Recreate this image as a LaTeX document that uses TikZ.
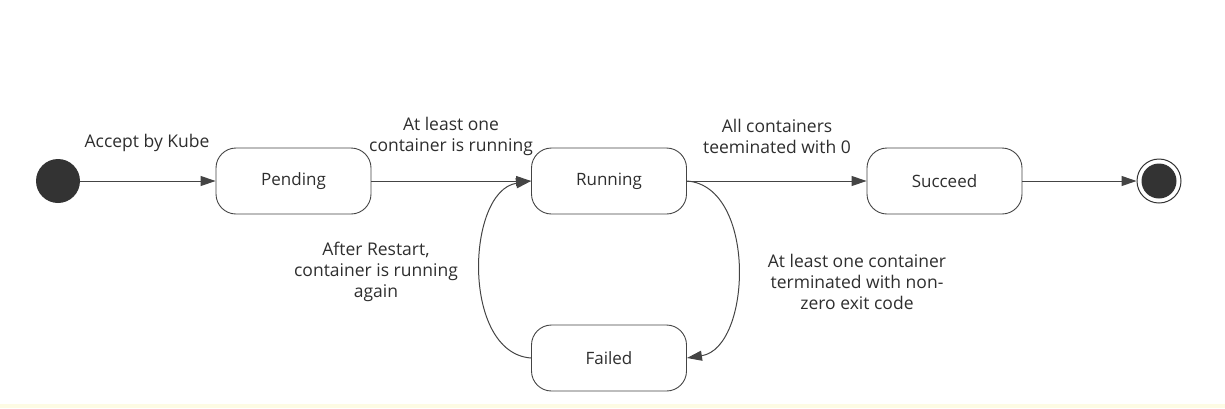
\documentclass[tikz,border=0pt]{standalone}
\usepackage{fontspec}
\setmainfont{Open Sans}
\usetikzlibrary{arrows.meta}
\definecolor{ln}{HTML}{444444}
\definecolor{dk}{HTML}{333333}
\definecolor{txt}{HTML}{2E2E2E}
\definecolor{band}{HTML}{FDFBE4}
\begin{document}
\begin{tikzpicture}[x=1pt,y=-1pt,
  statebox/.style={draw=ln, line width=0.9pt, rounded corners=20pt, minimum width=155pt, minimum height=66pt, inner sep=0pt, font=\fontsize{17}{20}\selectfont, text=txt},
  conn/.style={draw=ln, line width=1pt, -{Triangle[length=15pt,width=10pt]}},
  lbl/.style={font=\fontsize{17.5}{21}\selectfont, text=txt, align=center, inner sep=0pt}]
\useasboundingbox (0,0) rectangle (1225,408);
\fill[band] (0,404) rectangle (1225,408);
\node[circle, fill=dk, minimum size=44pt, inner sep=0pt] (init) at (58,181) {};
\node[statebox] (pend) at (293.5,181) {\raisebox{-1.5pt}{Pending}};
\node[statebox] (run) at (609,181) {\raisebox{-1.5pt}{Running}};
\node[statebox] (succ) at (944.5,181) {\raisebox{-1.5pt}{Succeed}};
\node[statebox] (fail) at (609,358) {\raisebox{-1.5pt}{Failed}};
\node[circle, draw=dk, line width=1pt, minimum size=44pt, inner sep=0pt] (fin) at (1159,181) {};
\node[circle, fill=dk, minimum size=35pt, inner sep=0pt] (fininner) at (1159,181) {};
\draw[conn] (init) -- (pend.west);
\draw[conn] (pend.east) -- (run.west);
\draw[conn] (run.east) -- (succ.west);
\draw[conn] (succ.east) -- (fin.west);
\draw[conn] (run.east) .. controls +(70,5) and +(65,-10) .. (fail.east);
\draw[conn] (fail.west) .. controls +(-70,-5) and +(-65,10) .. (run.west);
\node[lbl] (l1) at (147,143) {Accept by Kube};
\node[lbl] (l2) at (451,136) {At least one\\container is running};
\node[lbl] (l3) at (777,136) {All containers\\teeminated with 0};
\node[lbl] (l4) at (376,272) {After Restart,\\container is running\\again};
\node[lbl] (l5) at (857,282) {At least one container\\terminated with non-\\zero exit code};
\end{tikzpicture}
\end{document}
